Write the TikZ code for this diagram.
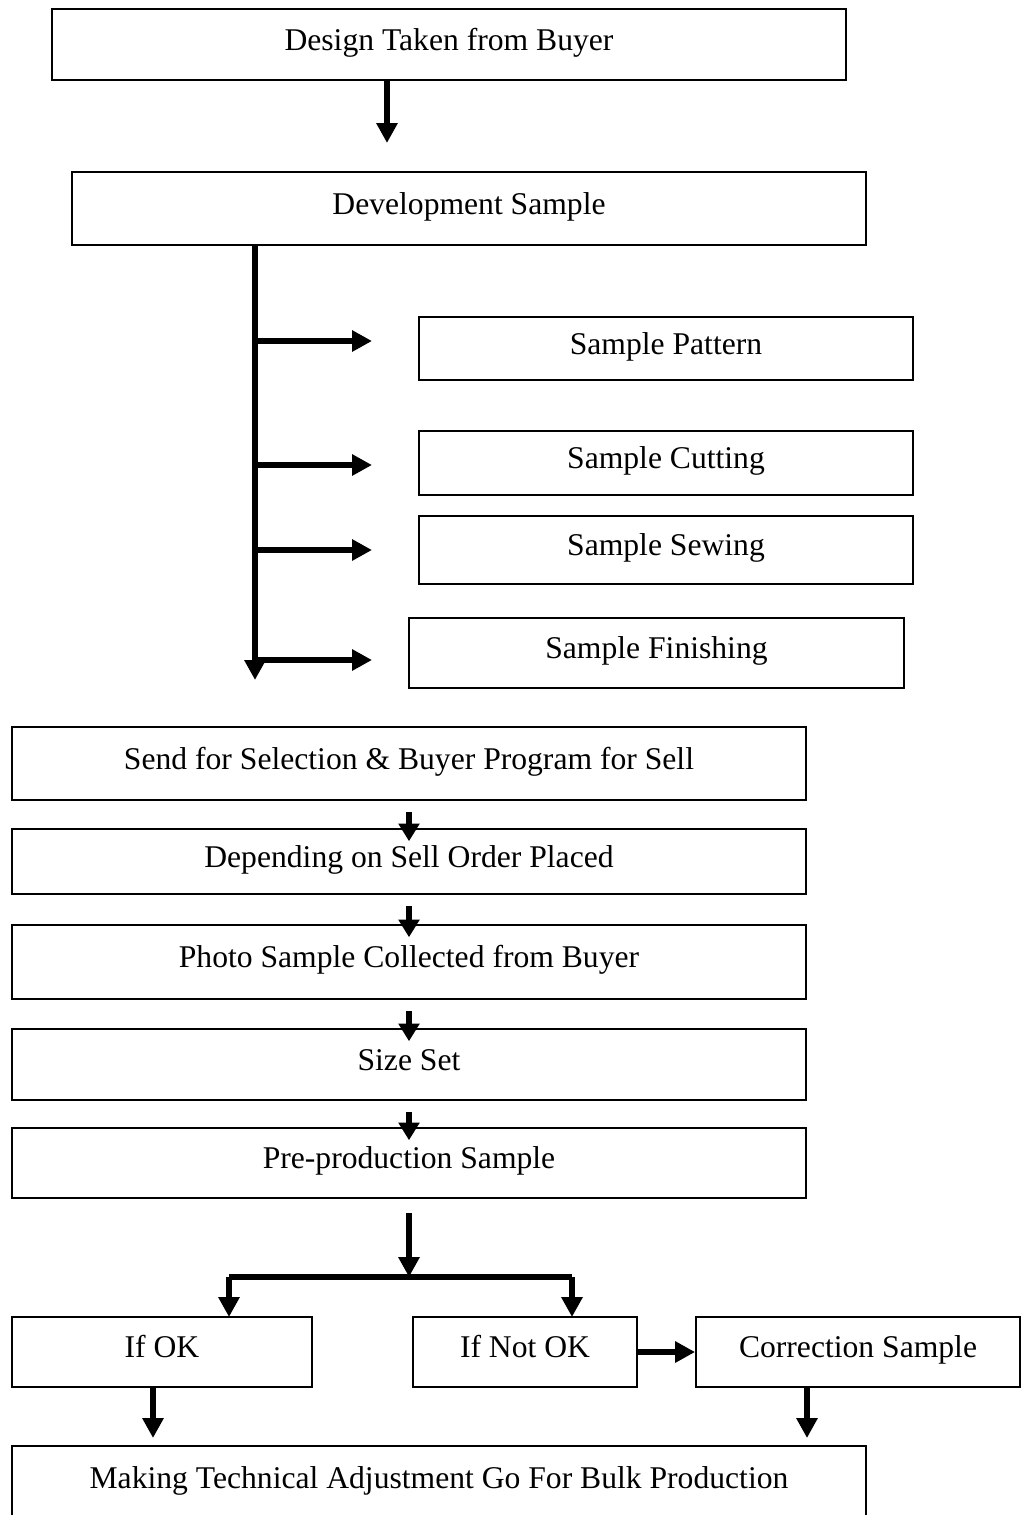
\documentclass[tikz,border=0pt]{standalone}
\usepackage{fontspec}
\setmainfont{Liberation Serif}
\usetikzlibrary{arrows.meta}

\begin{document}
\begin{tikzpicture}[x=0.02cm, y=-0.02cm,
	caja/.style={draw, line width=1.1pt, inner sep=0pt, text height=12pt, text depth=5.5pt, font=\fontsize{18}{21}\selectfont},
	flecha/.style={line width=3.7pt, -{Triangle[width=11.5pt, length=11.3pt]}},
	flechita/.style={line width=3.7pt, -{Triangle[width=11.5pt, length=10pt]}}]

\useasboundingbox (0,0) rectangle (1022,1515);

% Parte superior
\node[caja, minimum width=15.88cm, minimum height=1.42cm] (design) at (449,44.5) {Design Taken from Buyer};
\node[caja, minimum width=15.88cm, minimum height=1.46cm] (dev) at (469,208.5) {Development Sample};
\coordinate (devtip) at (387,143);
\draw[flecha] (design.south -| devtip) -- (devtip);

% Muestras
\node[caja, minimum width=9.88cm, minimum height=1.26cm] (pattern) at (666,348.5) {Sample Pattern};
\node[caja, minimum width=9.88cm, minimum height=1.28cm] (cutting) at (666,463) {Sample Cutting};
\node[caja, minimum width=9.88cm, minimum height=1.36cm] (sewing) at (666,550) {Sample Sewing};
\node[caja, minimum width=9.9cm, minimum height=1.4cm] (finishing) at (656.5,653) {Sample Finishing};

\coordinate (trunkend) at (255,680);
\draw[flecha] (dev.south -| trunkend) -- (trunkend);
\foreach \n/\y in {pattern/341, cutting/465, sewing/550, finishing/660}
	{\coordinate (\n-tip) at (372,\y);
	 \draw[flecha] (trunkend |- \n-tip) -- (\n-tip);}

% Cadena principal
\node[caja, minimum width=15.88cm, minimum height=1.46cm] (send) at (409,763.5) {Send for Selection \& Buyer Program for Sell};
\node[caja, minimum width=15.88cm, minimum height=1.3cm] (order) at (409,861.5) {Depending on Sell Order Placed};
\node[caja, minimum width=15.88cm, minimum height=1.48cm] (photo) at (409,962) {Photo Sample Collected from Buyer};
\node[caja, minimum width=15.88cm, minimum height=1.42cm] (size) at (409,1064.5) {Size Set};
\node[caja, minimum width=15.88cm, minimum height=1.4cm] (pre) at (409,1163) {Pre-production Sample};

\foreach \a/\b in {send/order, order/photo, photo/size, size/pre}
	\draw[flechita] ([yshift=-6.5pt]\a.south) -- ([yshift=-7.5pt]\b.north);

% Decision
\node[caja, minimum width=6cm, minimum height=1.4cm] (ok) at (162,1352) {If OK};
\node[caja, minimum width=4.48cm, minimum height=1.4cm] (notok) at (525,1352) {If Not OK};
\node[caja, minimum width=6.48cm, minimum height=1.4cm] (corr) at (858,1352) {Correction Sample};

\coordinate (split) at (409,1277);
\coordinate (okin) at (229,1317);
\coordinate (notin) at (572,1317);
\draw[flecha] ([yshift=-8pt]pre.south) -- (split);
\draw[line width=3.2pt] (okin |- split) -- (notin |- split);
\draw[flecha] (okin |- split) -- (okin);
\draw[flecha] (notin |- split) -- (notin);
\draw[flecha] (notok) -- (corr);

% Produccion
\node[caja, anchor=north, minimum width=17.08cm, text height=24pt, text depth=26pt] (bulk) at (439,1445) {Making Technical Adjustment Go For Bulk Production};
\coordinate (okout) at (153,1438);
\coordinate (corrout) at (807,1438);
\draw[flecha] (ok.south -| okout) -- (okout);
\draw[flecha] (corr.south -| corrout) -- (corrout);

\end{tikzpicture}
\end{document}
